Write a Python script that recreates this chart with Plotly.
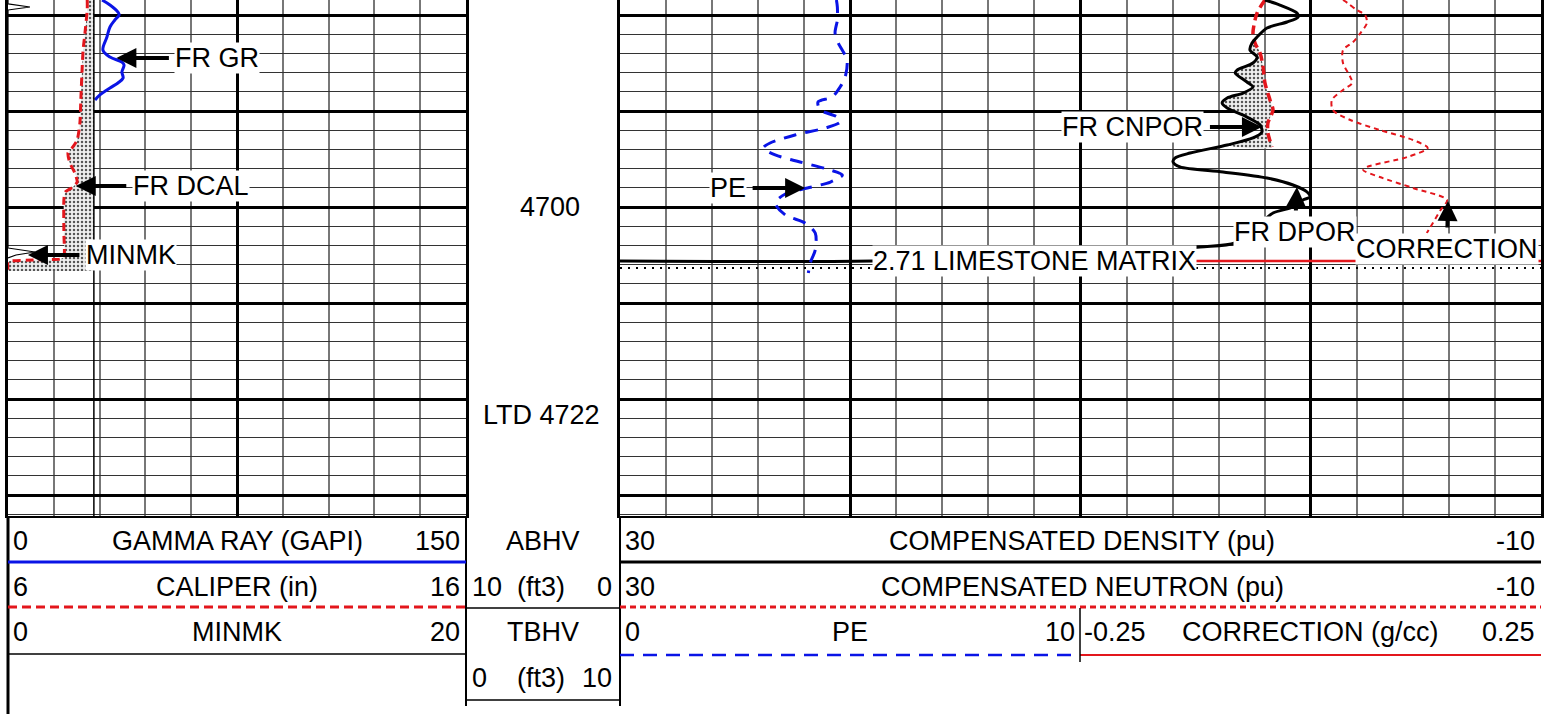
import plotly.graph_objects as go

W, H = 1554, 714
FONT = "Liberation Sans, Arial, sans-serif"
FONT_SIZE = 27
BLUE = "#0a14e6"
RED = "#e3161c"

# depth window shown in the log (ft)
DEPTH_TOP = 4678.4375
DEPTH_BOTTOM = 4732.1875
DEPTH_MARKS = [4700]
LTD = 4722
BIT_SIZE = 7.875

# track 1 curves
GR_DEPTH = [4678.44, 4678.96, 4679.69, 4680.00, 4680.52, 4681.25, 4682.29, 4683.65, 4684.38,
            4684.90, 4685.21, 4685.94, 4686.56, 4687.08, 4687.60, 4688.33, 4688.85]
GR = [30.8, 33.4, 36.0, 36.4, 35.0, 33.4, 32.4, 31.1, 33.4, 37.3, 38.0, 37.3, 37.7, 36.0, 33.4, 30.1, 28.5]

CAL_DEPTH = [4678.44, 4679.48, 4681.88, 4683.65, 4685.42, 4688.85, 4691.25, 4693.02, 4693.85, 4694.38,
             4695.42, 4696.46, 4697.40, 4697.92, 4698.44, 4699.27, 4702.71, 4705.21, 4705.42, 4705.52,
             4705.63, 4705.73, 4706.67]
CAL = [7.73, 7.73, 7.68, 7.64, 7.62, 7.59, 7.57, 7.51, 7.40, 7.31, 7.35, 7.46, 7.51, 7.42, 7.25, 7.22,
       7.22, 7.22, 7.14, 6.55, 6.04, 6.0, 6.0]

MINMK_DEPTH = [4678.44, 4678.85, 4679.17, 4679.48, 4704.27, 4704.69, 4705.00, 4705.31]
MINMK = [0, 0, 0.96, 0, 0, 1.18, 0.35, 0]

# track 2 curves
DPOR_DEPTH = [4678.44, 4678.96, 4679.79, 4680.21, 4680.73, 4681.35, 4682.29, 4682.92, 4683.65, 4684.38,
              4685.00, 4685.73, 4686.04, 4686.98, 4687.50, 4688.13, 4688.65, 4689.17, 4689.69, 4690.63,
              4691.46, 4692.19, 4692.81, 4693.54, 4694.38, 4694.90, 4695.31, 4695.83, 4696.35, 4696.98,
              4697.71, 4698.44, 4698.96, 4699.27, 4700.00, 4700.63, 4702.19, 4703.75, 4704.17, 4704.90,
              4705.63, 4705.63]
DPOR = [1.99, 1.34, 0.60, 0.55, 1.03, 1.90, 2.33, 2.55, 2.64, 2.33, 2.51, 3.20, 3.28, 2.77, 2.51, 2.94,
        3.63, 3.85, 3.63, 2.77, 2.20, 2.12, 2.51, 3.63, 5.24, 5.90, 5.98, 5.68, 3.81, 1.90, 0.77, 0.16,
        0.03, 0.34, 0.77, 1.64, 2.42, 3.29, 4.81, 9.15, 19.01, 30.0]

NPOR_DEPTH = [4678.44, 4679.79, 4681.88, 4682.92, 4683.96, 4685.42, 4687.08, 4688.85, 4689.90, 4691.25,
              4692.29, 4693.75]
NPOR = [1.99, 2.33, 2.51, 2.42, 2.20, 2.07, 1.99, 1.77, 1.64, 1.86, 1.86, 1.68]

PE_DEPTH = [4678.44, 4679.17, 4680.52, 4681.88, 4682.92, 4684.69, 4686.46, 4687.50, 4688.54, 4689.06,
            4689.90, 4690.63, 4691.15, 4691.77, 4692.50, 4693.33, 4693.85, 4694.58, 4695.31, 4696.15,
            4696.67, 4697.40, 4698.02, 4698.65, 4699.58, 4700.83, 4701.67, 4702.71, 4704.48, 4705.83,
            4706.88]
PE = [4.70, 4.72, 4.72, 4.67, 4.74, 4.93, 4.89, 4.78, 4.61, 4.30, 4.35, 4.72, 4.78, 4.46, 3.80, 3.26,
      3.11, 3.37, 3.91, 4.57, 4.83, 4.57, 4.07, 3.59, 3.37, 3.59, 4.02, 4.24, 4.24, 4.13, 4.09]

CORR_DEPTH = [4678.44, 4678.75, 4679.48, 4680.00, 4680.83, 4681.88, 4682.81, 4683.65, 4685.00, 4686.46,
              4687.08, 4687.81, 4688.85, 4689.90, 4690.94, 4691.98, 4693.02, 4693.85, 4694.79, 4695.83,
              4696.15, 4696.88, 4698.02, 4699.27, 4700.31, 4702.08, 4702.71]
CORR = [0.035, 0.040, 0.050, 0.059, 0.061, 0.054, 0.046, 0.035, 0.035, 0.043, 0.045, 0.035, 0.023, 0.024,
        0.043, 0.075, 0.111, 0.127, 0.105, 0.061, 0.057, 0.075, 0.111, 0.148, 0.141, 0.130, 0.126]

MATRIX_DEPTH = 4705.63
CORR_TAIL = [-0.125, 0.25]
LOG_START_DEPTH = 4706.35
CROSSOVER = (4682.2, 4693.8)

# header scales
GR_SCALE = (0, 150)
CAL_SCALE = (6, 16)
MINMK_SCALE = (0, 20)
POR_SCALE = (30, -10)
PE_SCALE = (0, 10)
CORR_SCALE = (-0.25, 0.25)
ABHV_SCALE = (10, 0)
TBHV_SCALE = (0, 10)

STIPPLE = dict(shape=".", size=4, solidity=0.3, fgcolor="#555", bgcolor="#efefef", fillmode="replace")


def fmt(v):
    return f"{v:g}"


fig = go.Figure()

# ---- track 1
fig.add_trace(go.Scatter(x=GR, y=GR_DEPTH, xaxis="x", yaxis="y", mode="lines",
                         line=dict(color=BLUE, width=3, shape="spline")))
fig.add_trace(go.Scatter(x=[BIT_SIZE] * len(CAL_DEPTH), y=CAL_DEPTH, xaxis="x3", yaxis="y",
                         mode="lines", line=dict(width=0), hoverinfo="skip"))
fig.add_trace(go.Scatter(x=CAL, y=CAL_DEPTH, xaxis="x3", yaxis="y", mode="lines", fill="tonextx",
                         fillpattern=STIPPLE, line=dict(width=0, shape="spline", smoothing=0.6)))
fig.add_trace(go.Scatter(x=[BIT_SIZE, BIT_SIZE], y=[DEPTH_TOP, DEPTH_BOTTOM], xaxis="x3", yaxis="y",
                         mode="lines", line=dict(color="black", width=1.5)))
fig.add_trace(go.Scatter(x=CAL, y=CAL_DEPTH, xaxis="x3", yaxis="y", mode="lines",
                         line=dict(color=RED, width=3, dash="8px,5px", shape="spline", smoothing=0.6)))
fig.add_trace(go.Scatter(x=MINMK, y=MINMK_DEPTH, xaxis="x4", yaxis="y", mode="lines",
                         line=dict(color="black", width=1.2)))

# ---- track 2: density / neutron crossover shading
lo, hi = CROSSOVER
d_part = [(d, v) for d, v in zip(DPOR_DEPTH, DPOR) if lo <= d <= hi]
n_part = [(d, v) for d, v in zip(NPOR_DEPTH, NPOR) if lo <= d <= hi][::-1]
fig.add_trace(go.Scatter(x=[v for _, v in d_part + n_part], y=[d for d, _ in d_part + n_part],
                         xaxis="x2", yaxis="y2", mode="lines", fill="toself", fillpattern=STIPPLE,
                         line=dict(width=0, shape="spline", smoothing=0.8)))
fig.add_trace(go.Scatter(x=list(POR_SCALE), y=[LOG_START_DEPTH] * 2, xaxis="x2", yaxis="y2", mode="lines",
                         line=dict(color="black", width=2, dash="2px,6px")))
fig.add_trace(go.Scatter(x=NPOR, y=NPOR_DEPTH, xaxis="x2", yaxis="y2", mode="lines",
                         line=dict(color=RED, width=3.5, dash="9px,5px", shape="spline", smoothing=0.8)))
fig.add_trace(go.Scatter(x=DPOR, y=DPOR_DEPTH, xaxis="x2", yaxis="y2", mode="lines",
                         line=dict(color="black", width=3, shape="spline", smoothing=0.8)))
fig.add_trace(go.Scatter(x=PE, y=PE_DEPTH, xaxis="x5", yaxis="y2", mode="lines",
                         line=dict(color=BLUE, width=3, dash="13px,9px", shape="spline", smoothing=0.8)))
fig.add_trace(go.Scatter(x=CORR, y=CORR_DEPTH, xaxis="x6", yaxis="y2", mode="lines",
                         line=dict(color=RED, width=2, dash="5px,4px", shape="spline", smoothing=0.8)))
fig.add_trace(go.Scatter(x=CORR_TAIL, y=[MATRIX_DEPTH] * 2, xaxis="x6", yaxis="y2", mode="lines",
                         line=dict(color=RED, width=2.5)))

# ---- axes
plot_dom = [1 - 516 / H, 1]
grid_y = dict(domain=plot_dom, range=[DEPTH_BOTTOM, DEPTH_TOP], tick0=4680, dtick=10, showgrid=True,
              gridcolor="black", gridwidth=2.5,
              minor=dict(tick0=4680, dtick=2, showgrid=True, gridcolor="#333", gridwidth=1),
              showline=True, mirror=True, linecolor="black", linewidth=3,
              showticklabels=False, ticks="", zeroline=False)
hidden = dict(visible=False, showgrid=False, zeroline=False)

fig.update_layout(
    width=W, height=H, margin=dict(l=0, r=0, t=0, b=0),
    paper_bgcolor="white", plot_bgcolor="white", showlegend=False,
    xaxis=dict(domain=[8 / W, 466 / W], range=list(GR_SCALE), anchor="y", tick0=0, dtick=75,
               showgrid=True, gridcolor="black", gridwidth=2.5,
               minor=dict(tick0=0, dtick=15, showgrid=True, gridcolor="#777", gridwidth=1.5),
               showline=True, linecolor="black", linewidth=2, showticklabels=False, ticks="",
               zeroline=False),
    yaxis=dict(anchor="x", **grid_y),
    xaxis2=dict(domain=[620 / W, 1541 / W], range=list(POR_SCALE), anchor="y2", tick0=0, dtick=10,
                showgrid=True, gridcolor="black", gridwidth=2.5,
                minor=dict(tick0=0, dtick=2, showgrid=True, gridcolor="#777", gridwidth=1.5),
                showline=True, linecolor="black", linewidth=2, showticklabels=False, ticks="",
                zeroline=False),
    yaxis2=dict(anchor="x2", matches="y", **grid_y),
    xaxis3=dict(overlaying="x", anchor="y", range=list(CAL_SCALE), **hidden),
    xaxis4=dict(overlaying="x", anchor="y", range=list(MINMK_SCALE), **hidden),
    # PE spans the left half of track 2, CORRECTION the right half
    xaxis5=dict(overlaying="x2", anchor="y2",
                range=[PE_SCALE[0], 2 * PE_SCALE[1] - PE_SCALE[0]], **hidden),
    xaxis6=dict(overlaying="x2", anchor="y2",
                range=[2 * CORR_SCALE[0] - CORR_SCALE[1], CORR_SCALE[1]], **hidden),
)


def px(x):
    return x / W


def py(y):
    return 1 - y / H


def text(x, y, s, anchor="center"):
    return dict(x=px(x), y=py(y), xref="paper", yref="paper", text=s, showarrow=False,
                xanchor=anchor, yanchor="middle", font=dict(family=FONT, size=FONT_SIZE, color="black"))


def pointer(s, xref, x, yref, y, ax, ay):
    return dict(x=x, y=y, xref=xref, yref=yref, text=s, showarrow=True, arrowhead=2, arrowsize=1,
                arrowwidth=4, arrowcolor="black", ax=ax, ay=ay, bgcolor="white", borderpad=0,
                startstandoff=6, font=dict(family=FONT, size=FONT_SIZE, color="black"))


annotations = [
    pointer("FR GR", "x", 35.5, "y", 4684.48, 101, 0),
    pointer("FR DCAL", "x3", 7.48, "y", 4697.81, 115, 0),
    pointer("MINMK", "x4", 0.87, "y", 4705.0, 103, 0),
    pointer("PE", "x5", 4.02, "y2", 4698.02, -77, 0),
    pointer("FR CNPOR", "x2", 2.12, "y2", 4691.67, -129, 0),
    pointer("FR DPOR", "x2", 0.60, "y2", 4697.92, -2, 45),
    pointer("CORRECTION", "x6", 0.149, "y2", 4699.38, -1, 48),
    dict(x=px(1034), y=MATRIX_DEPTH, xref="paper", yref="y2", text="2.71 LIMESTONE MATRIX",
         showarrow=False, bgcolor="white", borderpad=0, xanchor="center", yanchor="middle",
         font=dict(family=FONT, size=FONT_SIZE, color="black")),
    dict(x=px(550), y=DEPTH_MARKS[0], xref="paper", yref="y", text=str(DEPTH_MARKS[0]), showarrow=False,
         font=dict(family=FONT, size=FONT_SIZE, color="black")),
    dict(x=px(541), y=LTD, xref="paper", yref="y", yshift=3, text=f"LTD {LTD}", showarrow=False,
         font=dict(family=FONT, size=FONT_SIZE, color="black")),
]

# header: curve names and scales
rows = [541, 587, 632, 678]
for (lo_v, hi_v), name, row in [(GR_SCALE, "GAMMA RAY (GAPI)", 0), (CAL_SCALE, "CALIPER (in)", 1),
                                (MINMK_SCALE, "MINMK", 2)]:
    annotations += [text(11, rows[row], fmt(lo_v), "left"), text(237, rows[row], name),
                    text(462, rows[row], fmt(hi_v), "right")]
for name, row in [("COMPENSATED DENSITY (pu)", 0), ("COMPENSATED NEUTRON (pu)", 1)]:
    annotations += [text(623, rows[row], fmt(POR_SCALE[0]), "left"), text(1082, rows[row], name),
                    text(1537, rows[row], fmt(POR_SCALE[1]), "right")]
annotations += [
    text(623, rows[2], fmt(PE_SCALE[0]), "left"), text(850, rows[2], "PE"),
    text(1077, rows[2], fmt(PE_SCALE[1]), "right"),
    text(1082, rows[2], fmt(CORR_SCALE[0]), "left"), text(1310, rows[2], "CORRECTION (g/cc)"),
    text(1537, rows[2], fmt(CORR_SCALE[1]), "right"),
    text(543, rows[0], "ABHV"),
    text(470, rows[1], fmt(ABHV_SCALE[0]), "left"), text(541, rows[1], "(ft3)"),
    text(614, rows[1], fmt(ABHV_SCALE[1]), "right"),
    text(543, rows[2], "TBHV"),
    text(470, rows[3], fmt(TBHV_SCALE[0]), "left"), text(541, rows[3], "(ft3)"),
    text(614, rows[3], fmt(TBHV_SCALE[1]), "right"),
]
fig.update_layout(annotations=annotations)


def hline(y, x0, x1, color="black", width=1.5, dash="solid"):
    return dict(type="line", xref="paper", yref="paper", x0=px(x0), x1=px(x1), y0=py(y), y1=py(y),
                line=dict(color=color, width=width, dash=dash))


def vline(x, y0, y1, width=1.5):
    return dict(type="line", xref="paper", yref="paper", x0=px(x), x1=px(x), y0=py(y0), y1=py(y1),
                line=dict(color="black", width=width))


fig.update_layout(shapes=[
    vline(8, 516, 714, 3), vline(466, 516, 706, 2), vline(620, 516, 706, 2),
    hline(562, 8, 466, BLUE, 3), hline(607, 8, 466, RED, 3, "9px,5px"), hline(654, 8, 466, "black", 1.5),
    hline(608, 466, 620), hline(700, 466, 620),
    hline(562, 620, 1541, "black", 3), hline(607, 620, 1541, RED, 3, "6px,4px"),
    hline(655, 620, 1080, BLUE, 2.5, "14px,9px"), hline(655, 1080, 1541, RED, 2),
    vline(1080, 608, 662),
])

# the page body has a default 8px margin; drop it so the figure sits at the window origin
fig.write_html("out.html", config={"displayModeBar": False},
               post_script="document.body.style.margin='0';")
